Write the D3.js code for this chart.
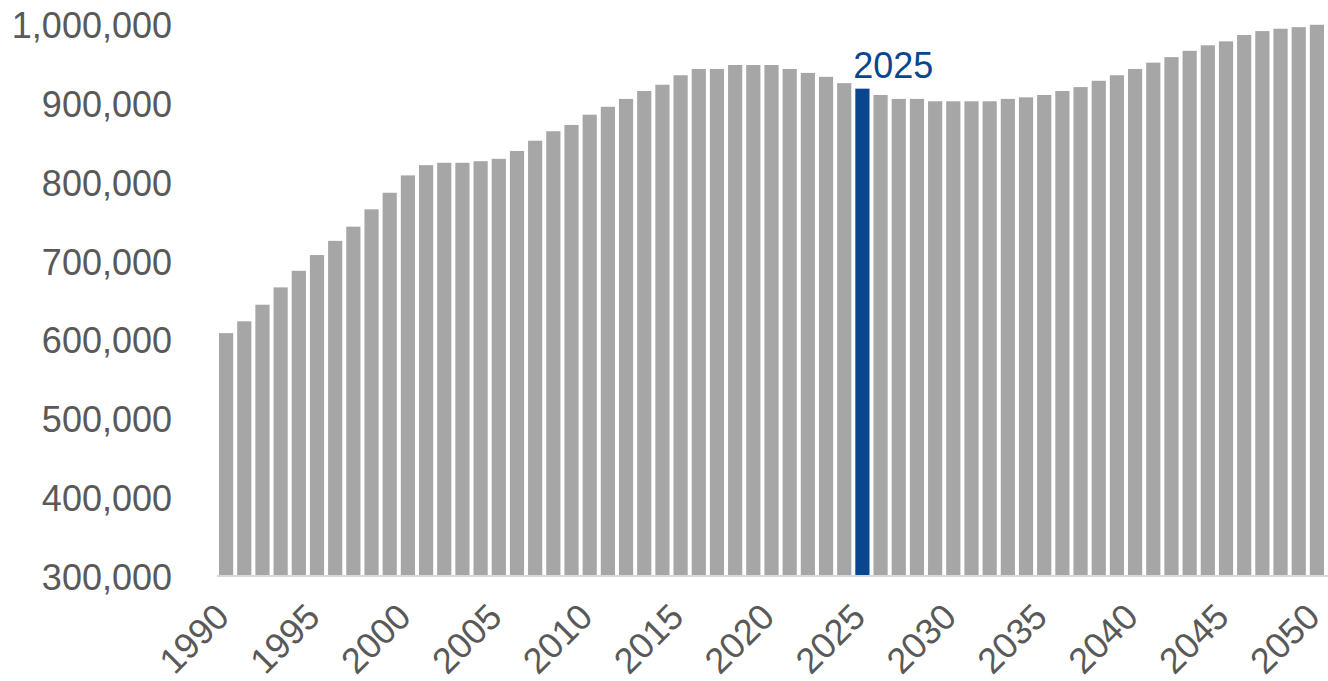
<!DOCTYPE html>
<html>
<head>
<meta charset="utf-8">
<script src="https://cdn.jsdelivr.net/npm/d3@7"></script>
<style>
  html, body { margin: 0; padding: 0; background: #fff; }
  svg { display: block; }
  text { font-family: "Liberation Sans", Arial, sans-serif; }
</style>
</head>
<body>
<svg id="chart" width="1328" height="681"></svg>
<script>
const years = d3.range(1990, 2051);
const values = [
  608000, 623000, 644000, 666000, 687000, 707000, 725000, 743000, 765000, 786000,
  808000, 821000, 824000, 824000, 826000, 829000, 839000, 852000, 864000, 872000,
  885000, 895000, 905000, 915000, 923000, 935000, 943000, 943000, 948000, 948000,
  948000, 943000, 938000, 933000, 925000, 918000, 910000, 905000, 905000, 902000,
  902000, 902000, 902000, 905000, 907000, 910000, 915000, 920000, 928000, 935000,
  943000, 951000, 958000, 966000, 973000, 978000, 986000, 991000, 994000, 996000,
  999000
];
const yTicks = [300000, 400000, 500000, 600000, 700000, 800000, 900000, 1000000];
const xTickYears = [1990, 1995, 2000, 2005, 2010, 2015, 2020, 2025, 2030, 2035, 2040, 2045, 2050];
const highlightYear = 2025;

const svg = d3.select("#chart");
const x = d3.scaleBand().domain(years).range([217, 1326]).paddingInner(0.22).paddingOuter(0.11);
const y = d3.scaleLinear().domain([300000, 1000000]).range([576, 24]);
const fmt = d3.format(",");

// bars
svg.append("g").selectAll("rect").data(years).join("rect")
  .attr("x", d => x(d))
  .attr("width", x.bandwidth())
  .attr("y", (d, i) => y(values[i]))
  .attr("height", (d, i) => y(300000) - y(values[i]))
  .attr("fill", d => d === highlightYear ? "#0a4690" : "#a6a6a6");

// x axis line
svg.append("line")
  .attr("x1", 217).attr("x2", 1328)
  .attr("y1", y(300000)).attr("y2", y(300000))
  .attr("stroke", "#d9d9d9").attr("stroke-width", 2);

// y axis labels
const yAxis = d3.axisLeft(y).tickValues(yTicks).tickFormat(fmt).tickSize(0).tickPadding(0);
const yg = svg.append("g").attr("transform", "translate(172,2)").call(yAxis);
yg.select(".domain").remove();
yg.selectAll("text").attr("font-size", 36).attr("fill", "#595959")
  .attr("font-family", "'Liberation Sans', Arial, sans-serif");

// x axis labels
const xAxis = d3.axisBottom(x).tickValues(xTickYears).tickSize(0).tickPadding(0);
const xg = svg.append("g").attr("transform", "translate(0,576)").call(xAxis);
xg.select(".domain").remove();
xg.selectAll("text")
  .attr("font-size", 36).attr("fill", "#595959")
  .attr("font-family", "'Liberation Sans', Arial, sans-serif")
  .attr("text-anchor", "end")
  .attr("dy", null)
  .attr("y", 0)
  .attr("transform", "translate(5,43) rotate(-45)");

// highlight label
const hi = years.indexOf(highlightYear);
svg.append("text")
  .attr("x", x(highlightYear) - 2)
  .attr("y", y(values[hi]) - 11)
  .attr("font-size", 36)
  .attr("fill", "#0a4690")
  .text(String(highlightYear));
</script>
</body>
</html>
